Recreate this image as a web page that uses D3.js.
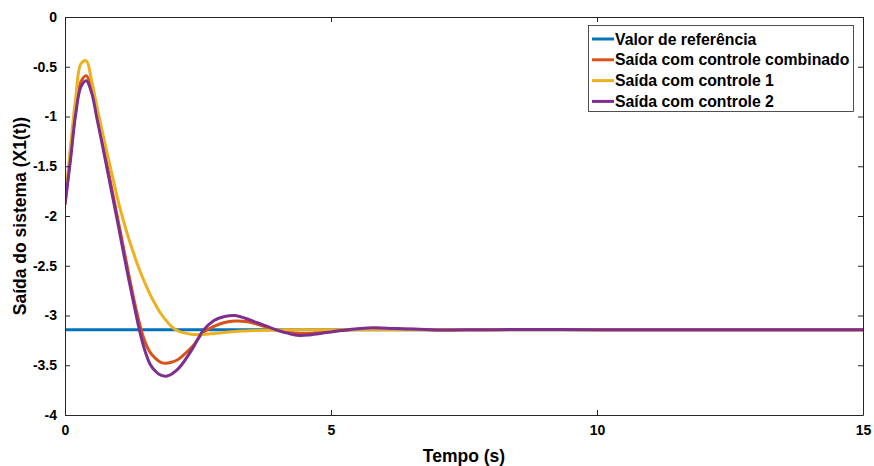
<!DOCTYPE html>
<html>
<head>
<meta charset="utf-8">
<script src="https://cdn.jsdelivr.net/npm/d3@7"></script>
<style>
  html, body { margin: 0; padding: 0; background: #fff; }
  svg { display: block; font-family: "Liberation Sans", Arial, Helvetica, sans-serif; }
</style>
</head>
<body>
<svg id="chart" width="874" height="466"></svg>
<script>
// ---- data ----
const time = [0,0.1,0.2,0.3,0.4,0.5,0.6,0.7,0.8,0.9,1.0,1.1,1.2,1.3,1.4,1.5,1.6,1.7,1.8,1.9,2.0,2.1,2.2,2.4,2.6,2.8,3.0,3.2,3.4,3.6,3.8,4.0,4.2,4.4,4.6,4.8,5.2,5.7,6.2,7,8,10,12,15];
const referencia = [-3.142,-3.142,-3.142,-3.142,-3.142,-3.142,-3.142,-3.142,-3.142,-3.142,-3.142,-3.142,-3.142,-3.142,-3.142,-3.142,-3.142,-3.142,-3.142,-3.142,-3.142,-3.142,-3.142,-3.142,-3.142,-3.142,-3.142,-3.142,-3.142,-3.142,-3.142,-3.142,-3.142,-3.142,-3.142,-3.142,-3.142,-3.142,-3.142,-3.142,-3.142,-3.142,-3.142,-3.142];
const combinado = [-1.88,-1.42,-0.94,-0.65,-0.59,-0.72,-0.98,-1.24,-1.51,-1.78,-2.05,-2.32,-2.59,-2.85,-3.08,-3.26,-3.37,-3.43,-3.47,-3.48,-3.47,-3.45,-3.41,-3.31,-3.17,-3.11,-3.07,-3.055,-3.06,-3.085,-3.12,-3.15,-3.17,-3.18,-3.18,-3.17,-3.15,-3.13,-3.132,-3.145,-3.142,-3.142,-3.142,-3.142];
const controle1 = [-1.88,-1.32,-0.82,-0.47,-0.44,-0.64,-0.90,-1.15,-1.39,-1.62,-1.85,-2.05,-2.23,-2.39,-2.54,-2.67,-2.79,-2.89,-2.98,-3.05,-3.11,-3.15,-3.17,-3.19,-3.19,-3.18,-3.17,-3.16,-3.155,-3.15,-3.147,-3.145,-3.143,-3.142,-3.142,-3.142,-3.142,-3.142,-3.142,-3.142,-3.142,-3.142,-3.142,-3.142];
const controle2 = [-1.88,-1.45,-0.98,-0.70,-0.64,-0.76,-1.02,-1.28,-1.55,-1.82,-2.09,-2.37,-2.64,-2.90,-3.15,-3.35,-3.49,-3.56,-3.60,-3.61,-3.59,-3.55,-3.49,-3.33,-3.15,-3.05,-3.01,-3.00,-3.03,-3.07,-3.11,-3.15,-3.18,-3.20,-3.195,-3.18,-3.15,-3.125,-3.13,-3.145,-3.142,-3.142,-3.142,-3.142];
const seriesNames = ["Valor de referência","Saída com controle combinado","Saída com controle 1","Saída com controle 2"];
const seriesColors = ["#0072BD","#D95319","#EDB120","#7E2F8E"];
const xTicks = [0,5,10,15];
const yTicks = [0,-0.5,-1,-1.5,-2,-2.5,-3,-3.5,-4];
const xLabel = "Tempo (s)";
const yLabel = "Saída do sistema (X1(t))";

// ---- layout ----
const svg = d3.select("#chart");
const L = 65, R = 863, T = 17, B = 415;
const x = d3.scaleLinear().domain([0, 15]).range([L, R]);
const y = d3.scaleLinear().domain([-4, 0]).range([B, T]);
const axisColor = "#262626";

svg.append("rect").attr("x", L).attr("y", T).attr("width", R - L).attr("height", B - T).attr("fill", "#fff");

// series
const allSeries = [referencia, combinado, controle1, controle2];
const line = d3.line().x(d => x(d[0])).y(d => y(d[1])).curve(d3.curveCatmullRom.alpha(0.5));
svg.append("clipPath").attr("id", "clip").append("rect")
  .attr("x", L).attr("y", T).attr("width", R - L).attr("height", B - T);
const plotG = svg.append("g").attr("clip-path", "url(#clip)");
allSeries.forEach((vals, i) => {
  const pts = time.map((t, k) => [t, vals[k]]);
  plotG.append("path").datum(pts)
    .attr("d", line)
    .attr("fill", "none")
    .attr("stroke", seriesColors[i])
    .attr("stroke-width", 3)
    .attr("stroke-linejoin", "round")
    .attr("stroke-linecap", "round");
});

// axes (MATLAB style: ticks inside, box on)
const fontTick = "bold 14px 'Liberation Sans', Arial, sans-serif";
const xAxisB = d3.axisBottom(x).tickValues(xTicks).tickSizeInner(-5).tickSizeOuter(0).tickPadding(10).tickFormat(d3.format("d"));
const xAxisT = d3.axisTop(x).tickValues(xTicks).tickSizeInner(-5).tickSizeOuter(0).tickFormat("");
const yAxisL = d3.axisLeft(y).tickValues(yTicks).tickSizeInner(-5).tickSizeOuter(0).tickPadding(8).tickFormat(d => d === 0 ? "0" : d3.format("")(d).replace("−", "-"));
const yAxisR = d3.axisRight(y).tickValues(yTicks).tickSizeInner(-5).tickSizeOuter(0).tickFormat("");

function styleAxis(g) {
  g.select(".domain").attr("stroke", axisColor).attr("stroke-width", 1);
  g.selectAll(".tick line").attr("stroke", axisColor).attr("stroke-width", 1);
  g.selectAll(".tick text").attr("fill", "#000").style("font", fontTick);
}
svg.append("g").attr("transform", `translate(0,${B})`).call(xAxisB).call(styleAxis);
svg.append("g").attr("transform", `translate(0,${T})`).call(xAxisT).call(styleAxis);
svg.append("g").attr("transform", `translate(${L},0)`).call(yAxisL).call(styleAxis);
svg.append("g").attr("transform", `translate(${R},0)`).call(yAxisR).call(styleAxis);

// axis labels
const fontLabel = "bold 17.5px 'Liberation Sans', Arial, sans-serif";
svg.append("text").attr("x", (L + R) / 2).attr("y", 462)
  .attr("text-anchor", "middle").style("font", fontLabel)
  .attr("fill", "#000").text(xLabel);
svg.append("text").attr("transform", `translate(26,${(T + B) / 2}) rotate(-90)`)
  .attr("text-anchor", "middle").style("font", fontLabel)
  .attr("fill", "#000").text(yLabel);

// legend
const lg = svg.append("g");
lg.append("rect").attr("x", 588.5).attr("y", 25.5).attr("width", 265).attr("height", 86)
  .attr("fill", "#fff").attr("stroke", "#262626").attr("stroke-width", 0.8);
seriesNames.forEach((name, i) => {
  const yy = 39 + i * 20.8;
  lg.append("line").attr("x1", 592).attr("x2", 614).attr("y1", yy).attr("y2", yy)
    .attr("stroke", seriesColors[i]).attr("stroke-width", 3);
  lg.append("text").attr("x", 615).attr("y", yy + 5.5)
    .style("font", "bold 15.8px 'Liberation Sans', Arial, sans-serif").attr("fill", "#000").text(name);
});
</script>
</body>
</html>
